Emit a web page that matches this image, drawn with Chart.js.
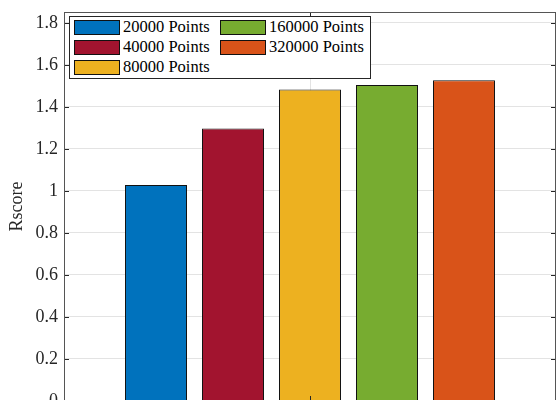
<!DOCTYPE html>
<html>
<head>
<meta charset="utf-8">
<script src="https://cdn.jsdelivr.net/npm/chart.js@4/dist/chart.umd.min.js"></script>
<style>
    html, body { margin: 0; padding: 0; background: #fff; overflow: hidden; }
    #wrap { position: relative; width: 570px; height: 430px; }
    #legendBox {
        position: absolute; left: 69px; top: 16px; width: 300px; height: 61px;
        border: 1px solid #262626; background: #fff;
        font-family: 'Liberation Serif', 'Times New Roman', serif; font-size: 16.5px; color: #000;
    }
    .lg-item { position: absolute; height: 15px; line-height: 15px; white-space: nowrap; }
    .lg-patch { position: absolute; left: 0; top: 0; width: 44px; height: 13px; border: 1px solid #111; }
    .lg-text { position: absolute; left: 49px; top: -1px; }
</style>
</head>
<body>
<div id="wrap">
    <canvas id="barChart" width="570" height="430"></canvas>
    <div id="legendBox"></div>
</div>
<script>
// Data
const categories = [''];
const seriesNames = ['20000 Points', '40000 Points', '80000 Points', '160000 Points', '320000 Points'];
const seriesValues = [1.028, 1.297, 1.483, 1.505, 1.527];
const seriesColors = ['#0072BD', '#A2142F', '#EDB120', '#77AC30', '#D95319'];
const yTicks = [0, 0.2, 0.4, 0.6, 0.8, 1, 1.2, 1.4, 1.6, 1.8];
const yMax = 1.852;

const axisColor = '#262626';
const serifFont = "'Liberation Serif', 'Times New Roman', serif";

// MATLAB style box + inward tick marks, drawn on top of the bars
const boxTicksPlugin = {
    id: 'boxTicks',
    afterDraw(chart) {
        const { ctx, chartArea } = chart;
        const y = chart.scales.y, x = chart.scales.x;
        const len = 5;
        ctx.save();
        ctx.strokeStyle = axisColor;
        ctx.lineWidth = 1;
        ctx.beginPath();
        yTicks.forEach(v => {
            const py = Math.round(y.getPixelForValue(v)) + 0.5;
            ctx.moveTo(chartArea.left, py); ctx.lineTo(chartArea.left + len, py);
            ctx.moveTo(chartArea.right, py); ctx.lineTo(chartArea.right - len, py);
        });
        const px = Math.round(x.getPixelForValue(0)) + 0.5;
        ctx.moveTo(px, chartArea.bottom); ctx.lineTo(px, chartArea.bottom - len);
        ctx.moveTo(px, chartArea.top); ctx.lineTo(px, chartArea.top + len);
        ctx.stroke();
        ctx.strokeStyle = '#555';
        ctx.strokeRect(chartArea.left + 0.5, chartArea.top + 0.5,
            chartArea.right - chartArea.left - 1, chartArea.bottom - chartArea.top - 1);
        ctx.restore();
    }
};

const datasets = seriesNames.map((name, i) => ({
    label: name,
    data: [seriesValues[i]],
    backgroundColor: seriesColors[i],
    borderColor: '#111',
    borderWidth: 1,
    categoryPercentage: 0.7825,
    barPercentage: 0.805
}));

new Chart(document.getElementById('barChart').getContext('2d'), {
    type: 'bar',
    data: { labels: categories, datasets: datasets },
    options: {
        responsive: false,
        animation: false,
        devicePixelRatio: 1,
        layout: { padding: { left: 0, top: 12, right: 14, bottom: 29 } },
        plugins: { legend: { display: false }, tooltip: { enabled: false } },
        scales: {
            x: {
                ticks: { display: false },
                grid: { offset: false, color: '#e3e3e3', drawTicks: false },
                border: { color: axisColor },
                afterFit: (scale) => { scale.height = 0; }
            },
            y: {
                min: 0,
                max: yMax,
                ticks: {
                    stepSize: 0.2,
                    includeBounds: false,
                    padding: 6,
                    color: axisColor,
                    font: { family: serifFont, size: 18 },
                    callback: (v) => String(Number(v.toFixed(1)))
                },
                grid: { color: '#e3e3e3', drawTicks: false },
                border: { color: axisColor },
                title: {
                    display: true,
                    text: 'Rscore',
                    color: axisColor,
                    font: { family: serifFont, size: 18 },
                    padding: { top: 6, bottom: 0 }
                },
                afterFit: (scale) => {
                    scale.width = 64;
                    scale.paddingTop = 0;
                    scale.paddingBottom = 0;
                }
            }
        }
    },
    plugins: [boxTicksPlugin]
});

// Legend in two columns, filled column by column
const legendBox = document.getElementById('legendBox');
const colLeft = [4, 150];
seriesNames.forEach((name, i) => {
    const col = i < 3 ? 0 : 1;
    const row = i < 3 ? i : i - 3;
    const item = document.createElement('div');
    item.className = 'lg-item';
    item.style.left = colLeft[col] + 'px';
    item.style.top = (3 + row * 20) + 'px';
    item.innerHTML = `<div class="lg-patch" style="background:${seriesColors[i]}"></div><span class="lg-text">${name}</span>`;
    legendBox.appendChild(item);
});
</script>
</body>
</html>
